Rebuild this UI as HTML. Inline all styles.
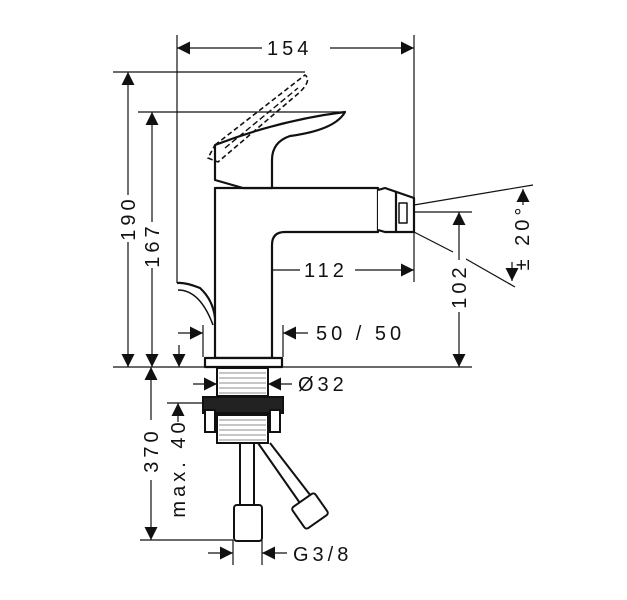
<!DOCTYPE html>
<html><head><style>body{margin:0;background:#fff}svg{display:block}text{font-family:"Liberation Sans",sans-serif;font-size:20px;fill:#111;letter-spacing:4px}</style></head>
<body>
<svg width="627" height="600" viewBox="0 0 627 600" xmlns="http://www.w3.org/2000/svg">
<defs>
<marker id="a" viewBox="0 0 10 10" refX="10" refY="5" markerWidth="14" markerHeight="13" markerUnits="userSpaceOnUse" orient="auto-start-reverse"><path d="M0,0 L10,5 L0,10 z" fill="#111"/></marker>
</defs>
<g stroke="#111" stroke-width="1.2" fill="none">
<line x1="177" y1="35" x2="177" y2="283"/>
<line x1="414" y1="35" x2="414" y2="282"/>
<line x1="113" y1="72" x2="305" y2="72"/>
<line x1="138" y1="112" x2="345" y2="112"/>
<line x1="113" y1="367" x2="205" y2="367"/>
<line x1="282" y1="367" x2="472" y2="367"/>
<line x1="414" y1="212" x2="472" y2="212"/>
<line x1="243" y1="258" x2="243" y2="357"/>
<line x1="167" y1="403" x2="205" y2="403"/>
<line x1="140" y1="540" x2="233" y2="540"/>
<line x1="233" y1="540" x2="233" y2="565"/>
<line x1="262" y1="540" x2="262" y2="565"/>
<line x1="203" y1="325" x2="203" y2="357"/>
<line x1="283" y1="325" x2="283" y2="357"/>
<line x1="177" y1="48" x2="262" y2="48" marker-start="url(#a)"/>
<line x1="330" y1="48" x2="414" y2="48" marker-end="url(#a)"/>
<line x1="128" y1="72" x2="128" y2="195" marker-start="url(#a)"/>
<line x1="128" y1="242" x2="128" y2="367" marker-end="url(#a)"/>
<line x1="152" y1="112" x2="152" y2="222" marker-start="url(#a)"/>
<line x1="152" y1="268" x2="152" y2="367" marker-end="url(#a)"/>
<line x1="179" y1="345" x2="179" y2="367" marker-end="url(#a)"/>
<line x1="243" y1="270" x2="300" y2="270" marker-start="url(#a)"/>
<line x1="355" y1="270" x2="414" y2="270" marker-end="url(#a)"/>
<line x1="178" y1="333" x2="203" y2="333" marker-end="url(#a)"/>
<line x1="308" y1="333" x2="283" y2="333" marker-end="url(#a)"/>
<line x1="459" y1="212" x2="459" y2="260" marker-start="url(#a)"/>
<line x1="459" y1="312" x2="459" y2="367" marker-end="url(#a)"/>
<line x1="414" y1="205" x2="533" y2="185"/>
<line x1="414" y1="232" x2="453" y2="252"/>
<line x1="466" y1="259" x2="515" y2="287"/>
<line x1="523" y1="205" x2="523" y2="189" marker-end="url(#a)"/>
<line x1="512" y1="262" x2="512" y2="281" marker-end="url(#a)"/>
<line x1="193" y1="384" x2="217" y2="384" marker-end="url(#a)"/>
<line x1="292" y1="384" x2="268" y2="384" marker-end="url(#a)"/>
<line x1="151" y1="367" x2="151" y2="420" marker-start="url(#a)"/>
<line x1="151" y1="480" x2="151" y2="540" marker-end="url(#a)"/>
<line x1="178" y1="403" x2="178" y2="422" marker-start="url(#a)"/>
<line x1="208" y1="553" x2="233" y2="553" marker-end="url(#a)"/>
<line x1="287" y1="553" x2="262" y2="553" marker-end="url(#a)"/>
</g>
<g stroke="#111" stroke-width="2.2" fill="#fff" stroke-linejoin="round">
<path d="M215,188 L378,188 L378,232 L285,232 Q272,232 272,245 L272,358 L215,358 Z"/>
<path d="M378,190 L385,188 L414,198 L414,232 L385,232 L378,230"/>
<line x1="396" y1="191" x2="396" y2="232"/>
<rect x="399" y="203" width="8" height="20" stroke-width="1.5"/>
<path d="M215,160 L215,145 Q280,120 345,112 Q335,130 290,136 Q272,142 272,160 L272,188 L243,188 L215,180 Z"/>
<rect x="205" y="358" width="77" height="9"/>
<path d="M177,283 Q185,282 200,288 Q213,300 215,318" fill="none"/>
<path d="M178,290 Q200,290 213,325" fill="none" stroke-width="1.5"/>
</g>
<path d="M215,145 L305,75 Q312,80 300,92 L218,162 L208,158 Z" stroke="#111" stroke-width="1.6" fill="none" stroke-dasharray="5,3"/>
<path d="M225,148 L298,88" stroke="#111" stroke-width="1.4" fill="none" stroke-dasharray="6,3"/>
<g stroke="#111" stroke-width="2" fill="#fff">
<rect x="217" y="368" width="51" height="28"/>
<rect x="217" y="415" width="51" height="28"/>
<rect x="203" y="397" width="80" height="16" fill="#222"/>
<rect x="205" y="410" width="10" height="22"/>
<rect x="270" y="410" width="10" height="22"/>
<path d="M240,443 L240,505 M254,443 L254,505"/>
<path d="M258,443 L302,506 M270,443 L314,500"/>
<rect x="234" y="505" width="28" height="36" rx="3"/>
<rect x="296" y="498" width="28" height="26" rx="3" transform="rotate(-35 310 511)"/>
</g>
<g stroke="#666" stroke-width="0.8">
<line x1="219" y1="373" x2="266" y2="373"/><line x1="219" y1="378" x2="266" y2="378"/><line x1="219" y1="383" x2="266" y2="383"/><line x1="219" y1="388" x2="266" y2="388"/><line x1="219" y1="393" x2="266" y2="393"/>
<line x1="219" y1="420" x2="266" y2="420"/><line x1="219" y1="425" x2="266" y2="425"/><line x1="219" y1="430" x2="266" y2="430"/><line x1="219" y1="435" x2="266" y2="435"/><line x1="219" y1="440" x2="266" y2="440"/>
</g>
<text x="267" y="55">154</text>
<text x="304" y="277">112</text>
<text x="316" y="340">50 / 50</text>
<text x="298" y="391">Ø32</text>
<text x="293" y="561">G3/8</text>
<text transform="translate(135,218) rotate(-90)" text-anchor="middle">190</text>
<text transform="translate(159,245) rotate(-90)" text-anchor="middle">167</text>
<text transform="translate(466,286) rotate(-90)" text-anchor="middle">102</text>
<text transform="translate(158,450) rotate(-90)" text-anchor="middle">370</text>
<text transform="translate(185,468) rotate(-90)" text-anchor="middle">max. 40</text>
<text transform="translate(529,237) rotate(-90)" text-anchor="middle">± 20°</text>
</svg>
</body></html>
